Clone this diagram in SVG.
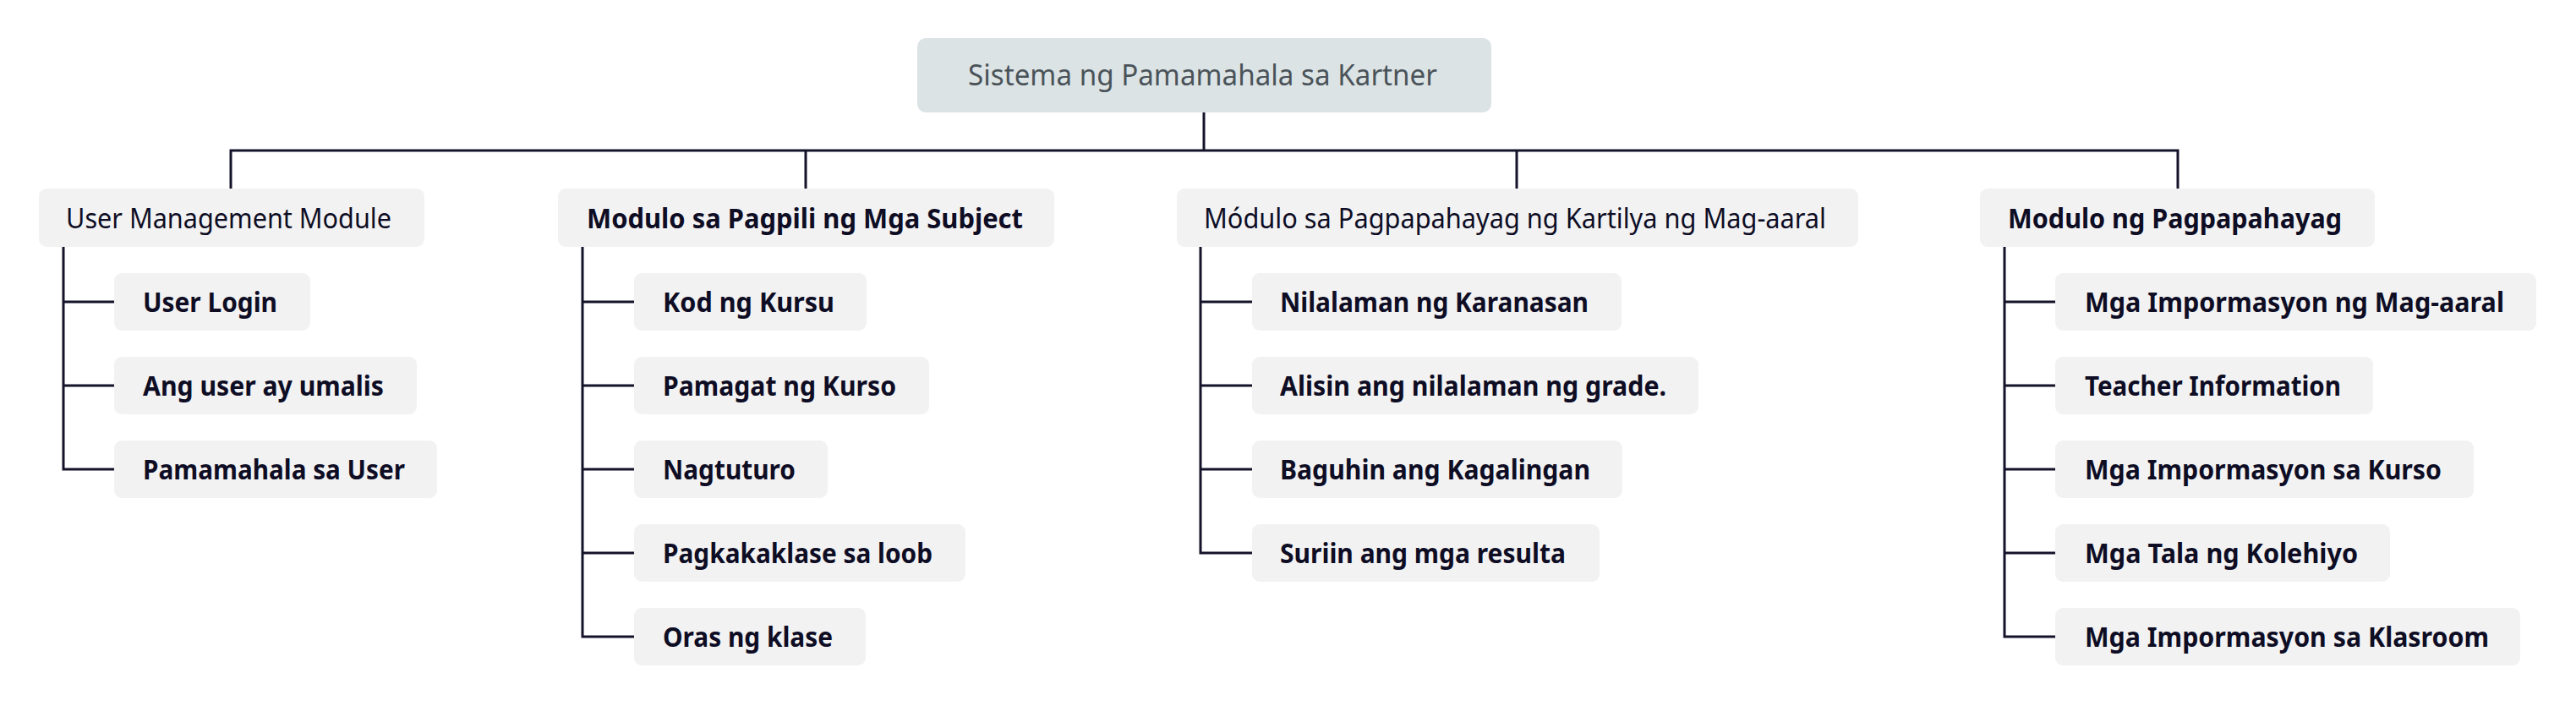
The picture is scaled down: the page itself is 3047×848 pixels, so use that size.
<svg xmlns="http://www.w3.org/2000/svg" width="3047" height="848" viewBox="0 0 3047 848">
<style>
.bg{fill:#ffffff}
.root rect{fill:#dce3e5}
.root text{fill:#4a5359;font-family:"Noto Sans","Open Sans","Liberation Sans",sans-serif;font-size:34px}
.n rect{fill:#f2f2f3}
.n text{fill:#0e0d24;font-family:"Noto Sans","Open Sans","Liberation Sans",sans-serif;font-size:32px}
.b text{font-weight:bold}
.c{fill:none;stroke:#14132a;stroke-width:3;stroke-linejoin:miter;stroke-linecap:square}
</style>
<rect class="bg" x="0" y="0" width="3047" height="848"/>
<g id="connectors">
<path class="c" d="M1424 134V178M273 222V178H2576V222M953 178V222M1794 178V222"/>
<path class="c" d="M75 293V555H134M75 357H134M75 456H134"/>
<path class="c" d="M689 293V753H749M689 357H749M689 456H749M689 555H749M689 654H749"/>
<path class="c" d="M1420 293V654H1480M1420 357H1480M1420 456H1480M1420 555H1480"/>
<path class="c" d="M2371 293V753H2430M2371 357H2430M2371 456H2430M2371 555H2430M2371 654H2430"/>
</g>
<g id="root" class="root"><rect x="1085" y="45" width="679" height="88" rx="10"/><text x="1145" y="101" textLength="555" lengthAdjust="spacingAndGlyphs">Sistema ng Pamamahala sa Kartner</text></g>
<g id="m1" class="n"><rect x="46" y="223" width="456" height="69" rx="9"/><text x="78" y="270" textLength="385" lengthAdjust="spacingAndGlyphs">User Management Module</text></g>
<g id="m2" class="n b"><rect x="660" y="223" width="587" height="69" rx="9"/><text x="694" y="270" textLength="516" lengthAdjust="spacingAndGlyphs">Modulo sa Pagpili ng Mga Subject</text></g>
<g id="m3" class="n"><rect x="1392" y="223" width="806" height="69" rx="9"/><text x="1424" y="270" textLength="736" lengthAdjust="spacingAndGlyphs">Módulo sa Pagpapahayag ng Kartilya ng Mag-aaral</text></g>
<g id="m4" class="n b"><rect x="2342" y="223" width="467" height="69" rx="9"/><text x="2375" y="270" textLength="395" lengthAdjust="spacingAndGlyphs">Modulo ng Pagpapahayag</text></g>

<g id="c1a" class="n b"><rect x="135" y="323" width="232" height="68" rx="9"/><text x="169" y="369" textLength="159" lengthAdjust="spacingAndGlyphs">User Login</text></g>
<g id="c1b" class="n b"><rect x="135" y="422" width="358" height="68" rx="9"/><text x="169" y="468" textLength="285" lengthAdjust="spacingAndGlyphs">Ang user ay umalis</text></g>
<g id="c1c" class="n b"><rect x="135" y="521" width="382" height="68" rx="9"/><text x="169" y="567" textLength="310" lengthAdjust="spacingAndGlyphs">Pamamahala sa User</text></g>

<g id="c2a" class="n b"><rect x="750" y="323" width="275" height="68" rx="9"/><text x="784" y="369" textLength="203" lengthAdjust="spacingAndGlyphs">Kod ng Kursu</text></g>
<g id="c2b" class="n b"><rect x="750" y="422" width="349" height="68" rx="9"/><text x="784" y="468" textLength="276" lengthAdjust="spacingAndGlyphs">Pamagat ng Kurso</text></g>
<g id="c2c" class="n b"><rect x="750" y="521" width="229" height="68" rx="9"/><text x="784" y="567" textLength="157" lengthAdjust="spacingAndGlyphs">Nagtuturo</text></g>
<g id="c2d" class="n b"><rect x="750" y="620" width="392" height="68" rx="9"/><text x="784" y="666" textLength="319" lengthAdjust="spacingAndGlyphs">Pagkakaklase sa loob</text></g>
<g id="c2e" class="n b"><rect x="750" y="719" width="274" height="68" rx="9"/><text x="784" y="765" textLength="201" lengthAdjust="spacingAndGlyphs">Oras ng klase</text></g>

<g id="c3a" class="n b"><rect x="1481" y="323" width="437" height="68" rx="9"/><text x="1514" y="369" textLength="365" lengthAdjust="spacingAndGlyphs">Nilalaman ng Karanasan</text></g>
<g id="c3b" class="n b"><rect x="1481" y="422" width="528" height="68" rx="9"/><text x="1514" y="468" textLength="457" lengthAdjust="spacingAndGlyphs">Alisin ang nilalaman ng grade.</text></g>
<g id="c3c" class="n b"><rect x="1481" y="521" width="438" height="68" rx="9"/><text x="1514" y="567" textLength="367" lengthAdjust="spacingAndGlyphs">Baguhin ang Kagalingan</text></g>
<g id="c3d" class="n b"><rect x="1481" y="620" width="411" height="68" rx="9"/><text x="1514" y="666" textLength="338" lengthAdjust="spacingAndGlyphs">Suriin ang mga resulta</text></g>

<g id="c4a" class="n b"><rect x="2431" y="323" width="569" height="68" rx="9"/><text x="2466" y="369" textLength="496" lengthAdjust="spacingAndGlyphs">Mga Impormasyon ng Mag-aaral</text></g>
<g id="c4b" class="n b"><rect x="2431" y="422" width="376" height="68" rx="9"/><text x="2466" y="468" textLength="303" lengthAdjust="spacingAndGlyphs">Teacher Information</text></g>
<g id="c4c" class="n b"><rect x="2431" y="521" width="495" height="68" rx="9"/><text x="2466" y="567" textLength="422" lengthAdjust="spacingAndGlyphs">Mga Impormasyon sa Kurso</text></g>
<g id="c4d" class="n b"><rect x="2431" y="620" width="396" height="68" rx="9"/><text x="2466" y="666" textLength="323" lengthAdjust="spacingAndGlyphs">Mga Tala ng Kolehiyo</text></g>
<g id="c4e" class="n b"><rect x="2431" y="719" width="550" height="68" rx="9"/><text x="2466" y="765" textLength="478" lengthAdjust="spacingAndGlyphs">Mga Impormasyon sa Klasroom</text></g>
</svg>
